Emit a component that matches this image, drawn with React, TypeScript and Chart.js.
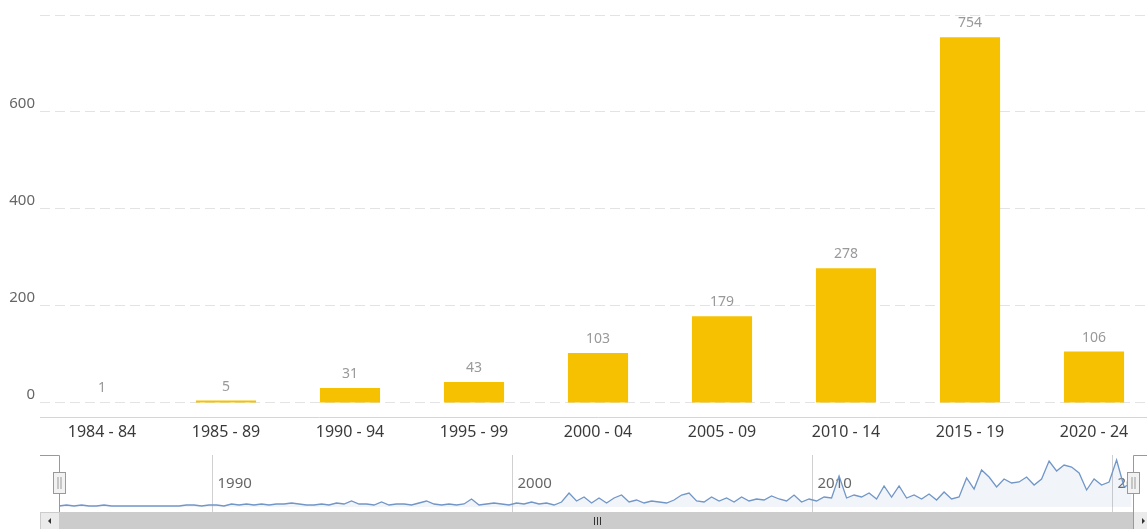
import React, { useEffect, useRef } from 'react';
import { Chart, registerables } from 'chart.js';

Chart.register(...registerables);

const FONT = '"Noto Sans", "Open Sans", sans-serif';

const categories = ['1984 - 84', '1985 - 89', '1990 - 94', '1995 - 99', '2000 - 04', '2005 - 09', '2010 - 14', '2015 - 19', '2020 - 24'];
const counts = [1, 5, 31, 43, 103, 179, 278, 754, 106];
const yGridTicks = [0, 200, 400, 600, 800];
const yLabelTicks = [0, 200, 400, 600];

const navStartYear = 1984.9;
const navStepYears = 0.25;
// quarterly activity, 1985 .. 2020
const navValues = [
  1, 2, 1, 2,
  1, 1, 2, 1,
  1, 1, 1, 1,
  1, 1, 1, 1,
  1, 2, 2, 1,
  2, 2, 1, 3,
  2, 3, 2, 3,
  2, 3, 3, 4,
  3, 2, 2, 3,
  2, 4, 3, 6,
  3, 3, 2, 5,
  2, 3, 3, 2,
  4, 6, 3, 2,
  3, 2, 3, 8,
  2, 3, 4, 3,
  2, 4, 3, 5,
  3, 4, 2, 5,
  14, 6, 10, 4,
  9, 4, 9, 12,
  5, 7, 4, 6,
  5, 4, 7, 12,
  14, 6, 5, 10,
  6, 9, 5, 10,
  6, 8, 7, 11,
  8, 6, 12, 5,
  8, 6, 10, 9,
  31, 9, 12, 10,
  14, 8, 21, 10,
  21, 9, 12, 8,
  13, 7, 15, 8,
  10, 29, 18, 37,
  30, 20, 28, 24,
  25, 30, 22, 28,
  46, 36, 42, 40,
  34, 17, 28, 22,
  25, 47, 20, 24,
];
const navYearTicks = [1990, 2000, 2010, 2020];
const navMin = 1984.9;
const navMax = 2020.73;

const dataLabelPlugin = {
  id: 'barValueLabels',
  afterDatasetsDraw(chart: any) {
    const ctx = chart.ctx;
    const meta = chart.getDatasetMeta(0);
    ctx.save();
    ctx.font = `14px ${FONT}`;
    ctx.fillStyle = '#999999';
    ctx.textAlign = 'center';
    ctx.textBaseline = 'alphabetic';
    meta.data.forEach((bar: any, i: number) => {
      ctx.fillText(String(counts[i]), bar.x, bar.y - 10);
    });
    ctx.restore();
  },
};

const navDecorPlugin = {
  id: 'navDecor',
  beforeDatasetsDraw(chart: any) {
    const ctx = chart.ctx;
    const xs = chart.scales.x;
    const area = chart.chartArea;
    ctx.save();
    ctx.beginPath();
    ctx.rect(0, 0, 1127, chart.height);
    ctx.clip();
    navYearTicks.forEach((yr) => {
      const x = Math.round(xs.getPixelForValue(yr)) + 0.5;
      ctx.strokeStyle = '#d0d0d0';
      ctx.lineWidth = 1;
      ctx.beginPath();
      ctx.moveTo(x, area.top);
      ctx.lineTo(x, 72);
      ctx.stroke();
      ctx.fillStyle = '#666666';
      ctx.font = `15px ${FONT}`;
      ctx.textAlign = 'left';
      ctx.textBaseline = 'middle';
      ctx.fillText(String(yr), x + 5, 44);
    });
    ctx.restore();
  },
  afterDraw(chart: any) {
    const ctx = chart.ctx;
    const W = chart.width;
    const left = 59.5;
    const right = 1133.5;
    ctx.save();
    // scrollbar
    const sTop = 72;
    const sH = 18;
    ctx.fillStyle = '#ebebeb';
    ctx.fillRect(40, sTop, 19, sH);
    ctx.fillRect(1134, sTop, W - 1134, sH);
    ctx.strokeStyle = '#cccccc';
    ctx.lineWidth = 1;
    ctx.strokeRect(40.5, sTop + 0.5, 19, sH);
    ctx.fillStyle = '#cccccc';
    ctx.fillRect(59, sTop, 1134 - 59, sH);
    // arrows
    ctx.fillStyle = '#333333';
    ctx.beginPath();
    ctx.moveTo(48, sTop + 9);
    ctx.lineTo(51, sTop + 6);
    ctx.lineTo(51, sTop + 12);
    ctx.closePath();
    ctx.fill();
    ctx.beginPath();
    ctx.moveTo(1145, sTop + 9);
    ctx.lineTo(1142, sTop + 6);
    ctx.lineTo(1142, sTop + 12);
    ctx.closePath();
    ctx.fill();
    // grip
    const gx = Math.round((59 + 1134) / 2);
    ctx.strokeStyle = '#333333';
    for (let k = -3; k <= 3; k += 3) {
      ctx.beginPath();
      ctx.moveTo(gx + k + 0.5, sTop + 5);
      ctx.lineTo(gx + k + 0.5, sTop + 13);
      ctx.stroke();
    }
    // outline
    ctx.strokeStyle = '#999999';
    ctx.lineWidth = 1;
    ctx.beginPath();
    ctx.moveTo(40, 15.5);
    ctx.lineTo(left, 15.5);
    ctx.lineTo(left, sTop);
    ctx.moveTo(right, sTop + sH);
    ctx.lineTo(right, 15.5);
    ctx.lineTo(W, 15.5);
    ctx.stroke();
    // handles
    const drawHandle = (cx: number) => {
      const hx = Math.round(cx - 6) + 0.5;
      ctx.fillStyle = '#f2f2f2';
      ctx.fillRect(hx, 32.5, 12, 21);
      ctx.strokeStyle = '#999999';
      ctx.strokeRect(hx, 32.5, 12, 21);
      ctx.beginPath();
      ctx.moveTo(hx + 4.5, 37);
      ctx.lineTo(hx + 4.5, 49);
      ctx.moveTo(hx + 7.5, 37);
      ctx.lineTo(hx + 7.5, 49);
      ctx.stroke();
    };
    drawHandle(59);
    drawHandle(1133);
    ctx.restore();
  },
};

export default function App() {
  const mainRef = useRef<HTMLCanvasElement | null>(null);
  const navRef = useRef<HTMLCanvasElement | null>(null);

  useEffect(() => {
    document.body.style.margin = '0';
    document.documentElement.style.overflow = 'hidden';
    const main = new Chart(mainRef.current as HTMLCanvasElement, {
      type: 'bar',
      data: {
        labels: categories,
        datasets: [
          {
            data: counts,
            backgroundColor: '#F6C100',
            borderWidth: 0,
            categoryPercentage: 1,
            barPercentage: 0.485,
          },
        ],
      },
      options: {
        animation: false,
        responsive: false,
        layout: { padding: { top: 15, right: 4, left: 0, bottom: 0 } },
        plugins: { legend: { display: false }, tooltip: { enabled: false } },
        scales: {
          x: {
            type: 'category',
            offset: true,
            grid: { display: false, drawTicks: false },
            border: { display: true, color: '#ccd6eb', width: 1 },
            ticks: {
              color: '#3a3a3a',
              font: { family: FONT, size: 16 },
              padding: 6,
              maxRotation: 0,
              autoSkip: false,
            },
            afterFit: (s: any) => {
              s.height = 23;
            },
          },
          y: {
            min: -29,
            max: 800,
            afterBuildTicks: (s: any) => {
              s.ticks = yGridTicks.map((v) => ({ value: v }));
            },
            grid: { color: '#e3e3e3', drawTicks: false },
            border: { display: false, dash: [10, 5] },
            ticks: {
              padding: 5,
              color: '#666666',
              font: { family: FONT, size: 15 },
              labelOffset: -8,
              callback: (v: any) => (yLabelTicks.includes(Number(v)) ? String(v) : ''),
            },
            afterFit: (s: any) => {
              s.width = 40;
            },
          },
        },
      },
      plugins: [dataLabelPlugin],
    } as any);

    const nav = new Chart(navRef.current as HTMLCanvasElement, {
      type: 'line',
      data: {
        datasets: [
          {
            data: navValues.map((v, i) => ({ x: navStartYear + i * navStepYears, y: v })),
            borderColor: '#7196c8',
            borderWidth: 1.3,
            pointRadius: 0,
            fill: 'origin',
            backgroundColor: 'rgba(119,152,191,0.1)',
            tension: 0,
          },
        ],
      },
      options: {
        animation: false,
        responsive: false,
        layout: { padding: { left: 59, right: 13, top: 15, bottom: 22 } },
        plugins: { legend: { display: false }, tooltip: { enabled: false } },
        scales: {
          x: { type: 'linear', display: false, min: navMin, max: navMax },
          y: { display: false, min: 0, max: 52 },
        },
      },
      plugins: [navDecorPlugin],
    } as any);

    return () => {
      main.destroy();
      nav.destroy();
    };
  }, []);

  return (
    <div style={{ position: 'relative', width: 1147, height: 529, overflow: 'hidden', background: '#fff' }}>
      <canvas ref={mainRef} width={1160} height={440} style={{ position: 'absolute', left: 0, top: 0 }} />
      <canvas ref={navRef} width={1147} height={89} style={{ position: 'absolute', left: 0, top: 440 }} />
    </div>
  );
}
